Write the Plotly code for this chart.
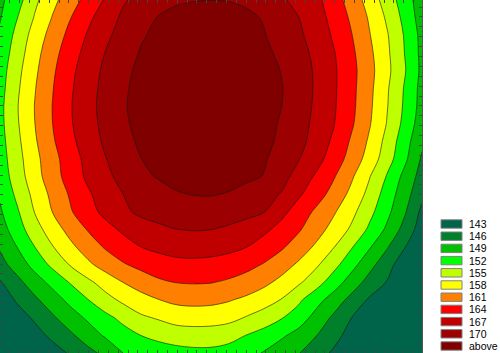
import plotly.graph_objects as go

# grid coordinates (columns left->right, rows listed top->bottom)
x_vals = list(range(25))
y_vals_top_down = list(range(20, -1, -1))

z_rows_top_down = [
    [148.3, 150.9, 154.4, 157.2, 159.7, 162.0, 164.3, 166.7, 167.8, 168.9, 169.6, 169.9, 169.98, 169.9, 169.5, 168.5, 167.4, 166.1, 164.7, 162.4, 159.6, 156.9, 153.6, 150.6, 147.3],
    [148.8, 152.0, 155.3, 158.2, 160.9, 163.3, 165.6, 167.5, 169.3, 170.1, 170.8, 171.0, 171.1, 171.0, 170.6, 169.8, 168.4, 167.0, 165.3, 163.0, 160.5, 157.7, 154.6, 151.2, 147.6],
    [149.4, 153.0, 156.3, 159.2, 161.9, 164.3, 166.4, 168.1, 169.7, 170.6, 171.3, 171.7, 171.8, 171.6, 171.1, 170.2, 168.7, 167.5, 165.7, 163.6, 161.1, 158.2, 155.3, 151.8, 148.1],
    [150.1, 153.6, 157.0, 160.0, 162.7, 165.0, 167.1, 168.7, 170.2, 171.2, 171.9, 172.35, 172.4, 172.2, 171.7, 170.8, 169.3, 168.0, 166.3, 164.15, 161.6, 158.7, 155.6, 152.0, 148.2],
    [150.6, 154.2, 157.5, 160.55, 163.3, 165.6, 167.6, 169.2, 170.7, 171.7, 172.4, 172.8, 172.85, 172.6, 172.06, 171.2, 169.9, 168.3, 166.6, 164.4, 161.9, 159.0, 155.8, 152.3, 148.3],
    [150.9, 154.6, 157.9, 160.9, 163.6, 165.9, 167.85, 169.55, 170.9, 171.9, 172.6, 173.0, 173.06, 172.8, 172.2, 171.35, 170.15, 168.5, 166.6, 164.4, 161.8, 158.8, 155.4, 151.8, 148.0],
    [151.2, 154.9, 158.15, 161.1, 163.8, 166.1, 167.97, 169.7, 171.0, 172.0, 172.66, 173.0, 173.05, 172.77, 172.2, 171.3, 170.05, 168.35, 166.5, 164.3, 161.7, 158.6, 155.2, 151.6, 147.9],
    [151.15, 154.76, 158.05, 161.03, 163.7, 165.9, 167.84, 169.5, 170.85, 171.8, 172.5, 172.8, 172.83, 172.54, 171.93, 171.0, 169.7, 168.1, 166.25, 164.1, 161.4, 158.3, 154.9, 151.2, 147.4],
    [150.9, 154.4, 157.7, 160.66, 163.3, 165.55, 167.5, 169.1, 170.46, 171.42, 172.07, 172.4, 172.41, 172.1, 171.5, 170.56, 169.6, 167.9, 165.8, 163.4, 160.6, 157.6, 154.1, 150.3, 146.6],
    [150.6, 154.0, 157.2, 160.0, 162.6, 164.9, 166.9, 168.4, 169.95, 170.79, 171.43, 171.77, 171.78, 171.48, 170.86, 170.3, 168.9, 167.1, 165.0, 162.6, 159.8, 156.8, 153.4, 149.7, 145.6],
    [150.2, 153.6, 156.86, 159.73, 162.3, 164.56, 166.4, 167.8, 169.4, 170.2, 170.7, 171.0, 171.05, 170.9, 170.6, 169.9, 168.3, 165.6, 163.6, 161.2, 158.4, 155.2, 151.8, 148.2, 144.8],
    [149.4, 152.74, 155.95, 158.8, 161.36, 163.6, 165.4, 167.0, 168.1, 169.0, 169.8, 170.1, 170.15, 169.85, 169.0, 168.2, 166.8, 164.4, 162.3, 159.9, 157.2, 154.15, 150.7, 147.3, 143.8],
    [148.6, 151.7, 155.2, 158.1, 160.7, 162.9, 164.8, 166.4, 167.6, 168.1, 168.5, 168.7, 168.7, 168.5, 167.9, 167.1, 164.8, 162.7, 160.4, 158.3, 155.8, 152.9, 149.8, 146.4, 142.3],
    [147.6, 150.7, 153.8, 156.6, 159.0, 161.2, 163.0, 164.5, 165.6, 166.4, 166.97, 167.13, 167.02, 166.5, 165.7, 164.6, 163.1, 161.3, 159.2, 156.9, 154.5, 151.5, 148.5, 145.0, 141.5],
    [146.3, 149.1, 152.04, 154.86, 157.3, 159.4, 161.3, 162.75, 163.97, 164.7, 165.2, 165.4, 165.2, 164.8, 164.04, 162.8, 161.4, 159.56, 157.46, 155.04, 152.2, 149.3, 146.27, 143.17, 140.3],
    [145.0, 147.3, 150.1, 152.7, 155.2, 157.4, 159.2, 160.7, 161.8, 162.6, 163.1, 163.2, 163.05, 162.6, 161.9, 160.8, 159.3, 157.5, 155.4, 152.9, 150.0, 147.0, 144.2, 141.2, 138.6],
    [142.7, 145.2, 147.6, 149.9, 152.2, 154.3, 156.3, 158.0, 159.3, 160.5, 161.05, 161.2, 161.1, 160.6, 159.8, 158.7, 157.2, 155.4, 153.2, 150.4, 147.6, 144.9, 142.86, 139.96, 136.94],
    [140.8, 143.5, 145.5, 147.6, 149.8, 151.9, 153.9, 155.6, 156.9, 157.9, 158.6, 158.8, 158.69, 158.2, 157.4, 156.3, 154.85, 152.5, 150.0, 147.6, 145.0, 142.6, 140.2, 137.8, 135.0],
    [138.8, 141.4, 143.6, 145.6, 147.6, 149.5, 151.2, 152.8, 154.5, 155.3, 156.3, 156.5, 156.4, 156.0, 154.8, 153.65, 152.2, 150.5, 147.9, 145.4, 143.0, 140.8, 138.5, 136.3, 133.5],
    [136.75, 139.3, 141.66, 143.87, 145.5, 147.4, 149.4, 150.8, 152.0, 152.7, 153.2, 153.5, 153.45, 152.9, 151.96, 150.87, 149.5, 147.9, 146.05, 144.0, 141.8, 139.4, 136.9, 134.3, 131.6],
    [134.6, 137.0, 139.3, 141.45, 143.4, 145.15, 146.7, 149.0, 150.0, 150.7, 151.1, 151.3, 151.3, 151.0, 150.0, 148.8, 147.3, 146.1, 144.3, 142.5, 139.46, 137.2, 134.8, 132.3, 129.6],
]

level_start = 143
level_end = 170
level_step = 3
legend_labels = ['143', '146', '149', '152', '155', '158', '161', '164', '167', '170', 'above']
band_colors = ['#00644a', '#00802a', '#00c000', '#00ff00', '#c0ff00', '#ffff00',
               '#ff8000', '#ff0000', '#c00000', '#9d0000', '#800000']

n = len(band_colors)
colorscale = [[i / (n - 1), c] for i, c in enumerate(band_colors)]

fig = go.Figure(go.Contour(
    x=x_vals,
    y=y_vals_top_down[::-1],
    z=z_rows_top_down[::-1],
    autocontour=False,
    contours=dict(start=level_start, end=level_end, size=level_step, coloring='fill'),
    colorscale=colorscale,
    showscale=False,
    line=dict(color='#141414', width=0.6, smoothing=1),
    hoverinfo='skip',
))

axis_common = dict(showticklabels=False, ticks='inside', ticklen=3, tickwidth=1,
                   tickcolor='#444444', dtick=0.56, tick0=0, showline=True,
                   linecolor='#555555', linewidth=1, mirror='ticks',
                   showgrid=False, zeroline=False)

fig.update_layout(
    width=500, height=353,
    margin=dict(l=0, r=0, t=0, b=0),
    paper_bgcolor='white', plot_bgcolor='white',
    xaxis=dict(range=[0, 24], domain=[0, 422 / 500], **axis_common),
    yaxis=dict(range=[0, 20], domain=[0, 1], **axis_common),
    showlegend=False,
)

# legend (swatches + labels) on the right
W, H = 500, 353
top_c, step = 224, 12.2
for i, (lab, col) in enumerate(zip(legend_labels, band_colors)):
    cy = top_c + step * i
    fig.add_shape(type='rect', xref='paper', yref='paper',
                  x0=441 / W, x1=462 / W, y0=1 - (cy - 4.2) / H, y1=1 - (cy + 4.2) / H,
                  fillcolor=col, line=dict(color='#808080', width=1))
    fig.add_annotation(text=lab, xref='paper', yref='paper', x=467 / W, y=1 - cy / H,
                       xanchor='left', yanchor='middle', showarrow=False,
                       font=dict(family='Liberation Sans, Arial', size=10.5, color='black'))

fig.write_html('out.html')
